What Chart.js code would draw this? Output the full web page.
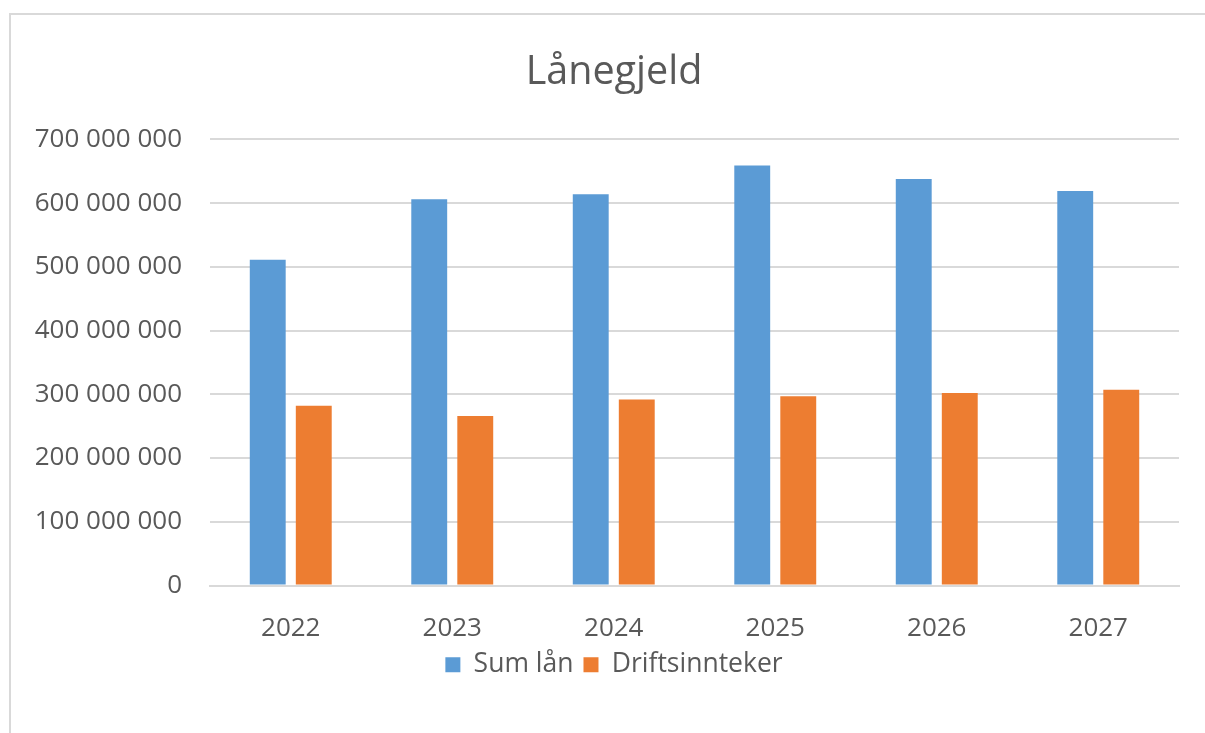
<!DOCTYPE html>
<html>
<head>
<meta charset="utf-8">
<script src="https://cdn.jsdelivr.net/npm/chart.js@4/dist/chart.umd.min.js"></script>
<style>
  html, body { margin: 0; padding: 0; background: #ffffff; }
  #wrap { width: 1205px; height: 733px; position: relative; }
</style>
</head>
<body>
<div id="wrap"><canvas id="c" width="1205" height="733"></canvas></div>
<script>
const categories = ['2022', '2023', '2024', '2025', '2026', '2027'];
const sumLan = [511000000, 606000000, 614000000, 659000000, 638000000, 619000000];
const driftsinntekter = [282000000, 266000000, 292000000, 297000000, 302000000, 307000000];
const yTickValues = [0, 100000000, 200000000, 300000000, 400000000, 500000000, 600000000, 700000000];
const seriesNames = ['Sum lån', 'Driftsinnteker'];
const titleText = 'Lånegjeld';

function fmt(v) {
  return String(Math.round(v)).replace(/\B(?=(\d{3})+(?!\d))/g, ' ');
}

const textColor = '#595959';
const gridColor = '#d9d9d9';

const frame = {
  id: 'frame',
  beforeDraw(chart) {
    const ctx = chart.ctx;
    ctx.save();
    ctx.fillStyle = '#ffffff';
    ctx.fillRect(0, 0, chart.width, chart.height);
    ctx.strokeStyle = '#d9d9d9';
    ctx.lineWidth = 2;
    ctx.beginPath();
    ctx.moveTo(10, chart.height);
    ctx.lineTo(10, 14);
    ctx.lineTo(chart.width, 14);
    ctx.stroke();
    ctx.restore();
  }
};

Chart.defaults.font.family = "'Open Sans', sans-serif";
Chart.defaults.color = textColor;

new Chart(document.getElementById('c'), {
  type: 'bar',
  data: {
    labels: categories,
    datasets: [
      { label: seriesNames[0], data: sumLan, backgroundColor: '#5b9bd5', categoryPercentage: 0.57, barPercentage: 0.78 },
      { label: seriesNames[1], data: driftsinntekter, backgroundColor: '#ed7d31', categoryPercentage: 0.57, barPercentage: 0.78 }
    ]
  },
  options: {
    responsive: false,
    devicePixelRatio: 1,
    animation: false,
    layout: { padding: { top: 0, left: 23, right: 0, bottom: 45 } },
    plugins: {
      title: {
        display: true,
        text: titleText,
        color: textColor,
        font: { size: 39.5, weight: 'normal' },
        padding: { top: 49, bottom: 43 }
      },
      legend: {
        position: 'bottom',
        labels: {
          boxWidth: 15,
          boxHeight: 15,
          padding: 10,
          color: textColor,
          font: { size: 26.5 }
        }
      },
      tooltip: { enabled: false }
    },
    scales: {
      x: {
        grid: { display: false, drawTicks: false },
        border: { display: true, color: gridColor, width: 2 },
        ticks: { color: textColor, font: { size: 26 }, padding: 27 },
        afterFit(scale) { scale.height = 56; }
      },
      y: {
        min: 0,
        max: 700000000,
        grid: { color: gridColor, lineWidth: 2, drawTicks: false },
        border: { display: false },
        afterBuildTicks(scale) { scale.ticks = yTickValues.map(v => ({ value: v })); },
        ticks: {
          color: textColor,
          font: { size: 26 },
          padding: 28,
          callback: (v) => fmt(v)
        },
        afterFit(scale) { scale.width = 187; }
      },
      yPad: {
        position: 'right',
        display: true,
        grid: { display: false, drawTicks: false },
        border: { display: false },
        ticks: { display: false },
        afterFit(scale) { scale.width = 26; }
      }
    }
  },
  plugins: [frame]
});
</script>
</body>
</html>
